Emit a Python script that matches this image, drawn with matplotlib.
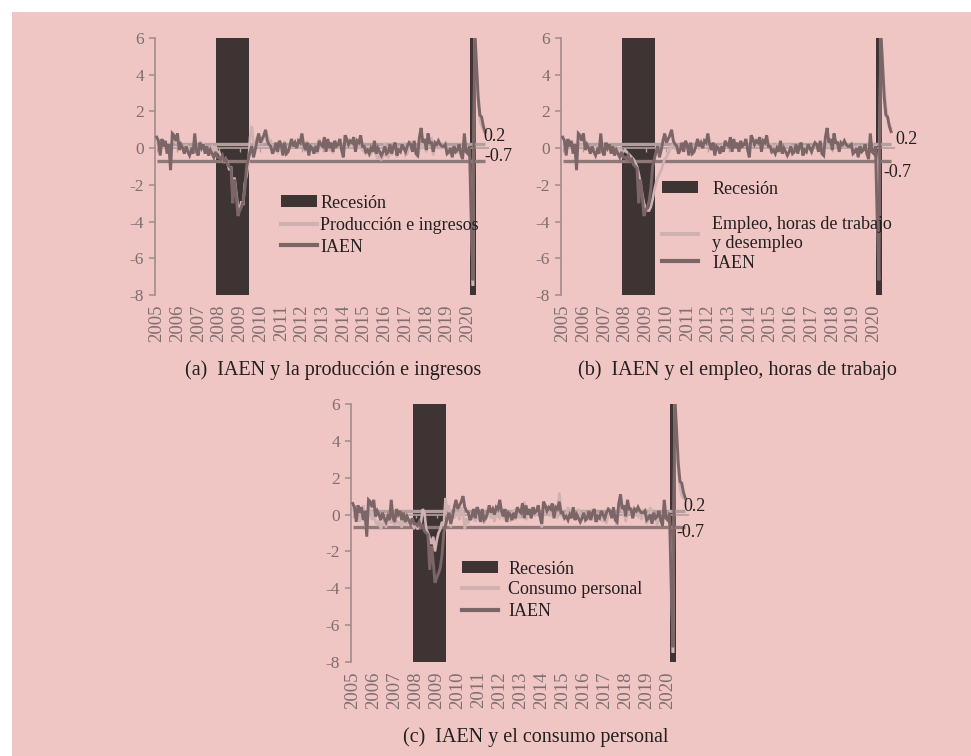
import matplotlib
matplotlib.use("Agg")
import matplotlib.pyplot as plt
from matplotlib.patches import Patch, Rectangle
from matplotlib.lines import Line2D
import numpy as np

plt.rcParams['font.family'] = ['Liberation Serif', 'DejaVu Serif']

# ---------------- data (monthly, Jan 2005 - Nov 2020) ----------------
years = [str(y) for y in range(2005, 2021)]

iaen = [
    0.6, 0.4, -0.4, 0.5, 0.1, 0.4, -0.3, 0.2, -1.2, 0.8, 0.7, 0.4,
    0.8, -0.1, 0.2, 0.0, -0.3, 0.1, -0.2, -0.4, -0.1, -0.3, 0.8, -0.2,
    -0.4, 0.3, 0.0, 0.2, -0.3, 0.1, -0.4, -0.1, -0.3, -0.5, -0.2, -0.5,
    -0.5, -0.6, -0.4, -0.7, -0.6, -0.9, -1.0, -1.1, -3.0, -1.7, -2.6, -3.7,
    -3.4, -3.2, -2.9, -2.2, -1.0, -0.6, -0.2, 0.1, -0.5, -0.1, 0.4, 0.8,
    0.3, 0.5, 0.7, 1.0, 0.4, 0.2, 0.1, -0.3, -0.1, 0.3, -0.2, 0.4,
    0.2, -0.4, 0.3, -0.3, -0.2, 0.1, 0.5, 0.1, 0.3, 0.0, 0.4, 0.3,
    0.8, 0.2, -0.1, 0.3, -0.4, 0.1, 0.0, -0.3, 0.1, -0.2, 0.4, 0.2,
    0.1, 0.6, -0.2, 0.5, 0.0, 0.3, -0.2, 0.4, 0.1, 0.2, 0.5, -0.1,
    -0.5, 0.7, 0.5, 0.2, 0.4, 0.3, 0.6, -0.2, 0.4, 0.3, 0.7, 0.1,
    0.1, -0.2, -0.1, -0.3, 0.0, -0.2, 0.4, -0.3, 0.0, -0.2, -0.4, -0.2,
    0.1, -0.3, -0.2, 0.2, -0.3, 0.1, 0.3, -0.4, -0.1, -0.2, 0.2, 0.0,
    -0.2, 0.1, 0.3, 0.2, -0.2, 0.4, -0.3, -0.4, 0.6, 1.1, 0.3, 0.5,
    -0.1, 0.8, 0.3, 0.3, -0.2, 0.3, 0.2, 0.4, 0.2, 0.1, 0.1, 0.2,
    -0.3, -0.2, 0.0, -0.5, 0.1, -0.2, -0.1, 0.2, -0.3, -0.6, 0.8, -0.2,
    -0.3, 0.1, -4.0, -7.2, 6.5, 4.6, 2.8, 1.8, 1.7, 1.2, 0.9,
]

produccion = [
    0.3, 0.2, -0.1, 0.3, 0.0, 0.2, -0.1, -0.2, -0.7, 0.5, 0.6, 0.3,
    0.3, 0.0, 0.2, 0.1, -0.1, 0.2, -0.1, -0.2, 0.0, -0.3, 0.3, -0.1,
    -0.3, 0.4, -0.1, 0.3, -0.1, 0.1, -0.3, 0.0, 0.1, -0.2, 0.1, -0.2,
    -0.2, -0.4, -0.5, -0.8, -0.6, -0.8, -1.2, -1.0, -2.4, -1.6, -2.4, -3.2,
    -3.3, -2.9, -3.1, -1.9, -1.5, -0.9, 0.6, 1.2, 0.3, 0.1, 0.6, 0.2,
    0.4, 0.3, 0.6, 0.8, 0.7, 0.3, 0.4, -0.1, 0.1, -0.1, -0.2, 0.3,
    0.1, -0.3, 0.4, -0.4, 0.0, 0.0, 0.3, 0.1, 0.1, 0.2, 0.0, 0.4,
    0.4, 0.2, -0.2, 0.4, -0.2, 0.0, 0.2, -0.3, 0.1, -0.3, 0.5, 0.0,
    0.0, 0.3, 0.1, 0.0, -0.1, 0.1, -0.3, 0.4, 0.2, 0.0, 0.3, 0.1,
    -0.4, 0.7, 0.4, 0.1, 0.2, 0.2, 0.1, 0.0, 0.2, 0.0, 0.5, -0.1,
    -0.2, -0.3, -0.2, -0.4, -0.3, -0.1, 0.3, -0.4, -0.6, -0.3, -0.6, -0.5,
    0.3, -0.4, -0.5, 0.1, -0.4, 0.2, 0.1, -0.5, 0.0, -0.1, -0.1, 0.3,
    -0.4, -0.3, 0.1, 0.4, -0.1, 0.1, -0.2, -0.5, -0.1, 0.9, 0.0, 0.2,
    -0.2, 0.4, 0.4, 0.5, -0.4, 0.3, 0.1, 0.3, 0.0, 0.0, 0.2, 0.3,
    -0.3, -0.3, -0.1, -0.4, 0.0, 0.0, -0.3, 0.2, -0.4, -0.3, 0.5, -0.2,
    -0.2, 0.0, -3.5, -7.5, 6.5, 4.0, 2.5, 1.5, 1.2, 1.0, 0.8,
]

empleo = [
    0.2, 0.2, 0.1, 0.3, 0.1, 0.2, 0.1, 0.0, -0.2, 0.1, 0.2, 0.2,
    0.2, 0.2, 0.2, 0.1, 0.0, 0.1, 0.0, 0.0, 0.1, 0.0, 0.1, 0.1,
    0.1, 0.0, 0.1, 0.0, 0.0, 0.0, -0.1, -0.1, -0.1, -0.1, -0.1, -0.2,
    -0.1, -0.2, -0.3, -0.4, -0.5, -0.6, -0.8, -1.0, -1.4, -1.9, -2.5, -3.0,
    -3.3, -3.4, -3.4, -3.2, -2.8, -2.3, -1.9, -1.6, -1.4, -1.2, -0.9, -0.6,
    -0.5, -0.3, -0.1, 0.1, 0.2, 0.0, 0.1, 0.0, 0.1, 0.1, 0.0, 0.1,
    0.1, 0.2, 0.2, 0.1, 0.1, 0.0, 0.1, 0.0, 0.2, 0.1, 0.2, 0.2,
    0.3, 0.2, 0.2, 0.1, 0.1, 0.1, 0.1, 0.1, 0.1, 0.2, 0.1, 0.2,
    0.2, 0.3, 0.1, 0.2, 0.2, 0.2, 0.1, 0.1, 0.2, 0.2, 0.3, 0.1,
    0.1, 0.2, 0.3, 0.3, 0.2, 0.3, 0.2, 0.2, 0.2, 0.3, 0.3, 0.2,
    0.2, 0.2, 0.1, 0.1, 0.2, 0.1, 0.1, 0.1, 0.1, 0.2, 0.1, 0.2,
    0.1, 0.1, 0.1, 0.0, 0.0, 0.1, 0.1, 0.1, 0.1, 0.1, 0.1, 0.1,
    0.1, 0.1, 0.1, 0.1, 0.1, 0.1, 0.1, 0.0, 0.0, 0.2, 0.1, 0.1,
    0.2, 0.2, 0.1, 0.1, 0.1, 0.1, 0.1, 0.1, 0.1, 0.1, 0.1, 0.1,
    0.1, 0.0, 0.0, 0.1, 0.0, 0.1, 0.0, 0.1, 0.0, 0.0, 0.1, 0.0,
    0.0, 0.1, -1.0, -4.5, 6.5, 5.0, 3.4, 2.3, 1.6, 1.3, 1.1,
]

consumo = [
    0.5, 0.0, -0.2, 0.3, -0.4, 0.2, 0.5, -0.5, -0.8, 0.0, 0.3, -0.3,
    0.2, -0.4, -0.6, -0.3, -0.8, -0.5, -0.3, -0.7, -0.4, -0.2, -0.5, -0.3,
    -0.6, -0.3, -0.5, -0.4, -0.7, -0.2, -0.5, -0.4, -0.6, -0.3, -0.5, -0.7,
    -0.5, -0.8, -0.6, -0.4, 0.3, 0.1, -0.8, -1.0, -1.3, -1.6, -1.2, -2.0,
    -1.4, -1.0, -0.8, -0.4, -0.6, 0.9, 0.2, 0.5, -0.7, 0.0, -0.2, 0.1,
    0.1, -0.3, 0.4, 0.1, -0.8, -0.2, -0.5, 0.0, -0.3, 0.2, -0.4, 0.1,
    -0.3, 0.2, 0.0, -0.5, -0.2, -0.1, 0.3, -0.2, 0.0, -0.4, 0.1, -0.1,
    -0.2, 0.3, -0.1, -0.3, 0.0, 0.2, -0.4, 0.1, 0.2, -0.3, 0.3, -0.2,
    0.1, 0.0, 0.7, -0.3, 0.1, 0.0, -0.2, 0.3, -0.1, 0.1, 0.2, 0.0,
    -0.7, 0.2, 0.5, 0.0, 0.3, -0.1, 0.2, 0.0, 0.1, -0.2, 1.2, 0.3,
    -0.2, 0.1, -0.1, 0.4, 0.1, 0.3, 0.0, -0.1, 0.0, 0.3, 0.1, -0.3,
    0.2, -0.1, -0.3, 0.1, 0.2, 0.0, -0.3, 0.1, -0.2, -0.1, 0.2, -0.4,
    0.0, -0.5, 0.1, 0.2, -0.1, 0.3, -0.2, -0.6, 0.4, 0.5, 0.2, 0.1,
    -0.4, 0.2, 0.3, 0.1, -0.2, 0.1, 0.0, -0.1, 0.2, -0.3, 0.3, 0.0,
    -0.5, -0.2, 0.4, 0.1, -0.3, 0.0, -0.6, 0.2, -0.4, -0.2, 0.3, -0.1,
    0.0, 0.1, -3.0, -7.5, 6.0, 3.5, 2.4, 1.4, 1.0, 0.9, 0.8,
]

recession_periods = [("2007-12", "2009-06"), ("2020-03", "2020-05")]
thresholds = [0.2, -0.7]
threshold_labels = ["0.2", "-0.7"]

panels = [
    ("produccion", "Producción e ingresos", "(a)  IAEN y la producción e ingresos"),
    ("empleo", "Empleo, horas de trabajo\ny desempleo", "(b)  IAEN y el empleo, horas de trabajo"),
    ("consumo", "Consumo personal", "(c)  IAEN y el consumo personal"),
]
series = {"produccion": produccion, "empleo": empleo, "consumo": consumo}

# ---------------- styling ----------------
W, H = 971, 756
BG = "#F0C6C4"
BAR = "#3E3434"
IAEN_C = "#7B6567"
COMP_C = "#CFB1B1"
T02_C = "#B39E9E"
T07_C = "#8E7878"
AX_C = "#A08C8C"
TICK_C = "#7F6E6E"
TXT_C = "#231F20"

fig = plt.figure(figsize=(W / 100, H / 100), dpi=100)
fig.patch.set_facecolor("white")
fig.patches.append(Rectangle((12 / W, 0), 1 - 12 / W, 1 - 12 / H,
                             transform=fig.transFigure, facecolor=BG,
                             edgecolor="none", zorder=-10))

n = len(iaen)
x = np.arange(n)
month_keys = [f"{2005 + i // 12}-{i % 12 + 1:02d}" for i in range(n)]


def rec_indices():
    idx = []
    for a, b in recession_periods:
        ia, ib = month_keys.index(a), month_keys.index(b)
        idx.extend(range(ia, ib + 1))
    return idx


# axes rectangles in pixels: left, top, right, bottom
rects = [(155, 38, 493.7, 295), (561, 38, 899.7, 295), (351, 404, 694, 662)]
# legend: handle-left x, row centre y's, handletextpad
legend_x = [281, 662, 462]
legend_rows = [(203, 226, 247), (189, 234, 263), (569, 590, 612)]
legend_pad = [0.17, 0.78, 0.55]
label_offsets = [[(-2, 7.6), (-1, 4)], [(4, 4.6), (-8, -12)], [(-1.5, 4), (-8.5, -5)]]
captions_pos = [(333, 370), (737, 370), (536, 737)]

for p, (key, comp_label, caption) in enumerate(panels):
    l, t, r, b = rects[p]
    ax = fig.add_axes([l / W, 1 - b / H, (r - l) / W, (b - t) / H])
    ax.set_facecolor("none")
    comp = series[key]

    ri = rec_indices()
    ax.bar(ri, [14] * len(ri), bottom=-8, width=1.0, color=BAR, linewidth=0, zorder=1)

    # horizontal category axis at zero with small year ticks
    ax.hlines(0, x[0], x[-1] + 2, color=T02_C, lw=1.2, zorder=2)
    year_idx = [month_keys.index(f"{y}-01") for y in years]
    ax.vlines(year_idx, -0.2, 0, color=T02_C, lw=1.0, zorder=2)

    for lev, col in zip(thresholds, [T02_C, T07_C]):
        ax.hlines(lev, x[0], x[-1], color=col, lw=2.4, zorder=3)

    ax.plot(x, comp, color=COMP_C, lw=1.9, zorder=4, solid_joinstyle="miter")
    ax.plot(x, iaen, color=IAEN_C, lw=2.1, zorder=5, solid_joinstyle="miter")

    for (lev, lab), (dx, dy) in zip(zip(thresholds, threshold_labels), label_offsets[p]):
        ax.annotate(lab, xy=(x[-1], lev), xytext=(dx * 0.72, dy * 0.72),
                    textcoords="offset points", ha="left", va="center",
                    fontsize=13, color=TXT_C, zorder=6)

    ax.set_xlim(-1, 195)
    ax.set_ylim(-8, 6)
    for s in ["top", "right", "bottom"]:
        ax.spines[s].set_visible(False)
    ax.spines["left"].set_color(AX_C)
    ax.spines["left"].set_linewidth(1.2)
    ax.set_yticks(range(-8, 7, 2))
    ax.set_yticklabels([str(v) for v in range(-8, 7, 2)])
    ax.tick_params(axis="y", direction="out", length=4, width=1.1, color=AX_C,
                   labelsize=12.5, labelcolor=TICK_C, pad=4)
    ax.set_xticks(year_idx)
    ax.set_xticklabels(years, rotation=90)
    ax.tick_params(axis="x", length=0, labelsize=13.5, labelcolor=TICK_C, pad=7)

    handles = [Patch(facecolor=BAR, edgecolor="none"),
               Line2D([], [], color=COMP_C, lw=3),
               Line2D([], [], color=IAEN_C, lw=3)]
    labels = ["Recesión", comp_label, "IAEN"]
    for h, lab, cy in zip(handles, labels, legend_rows[p]):
        fig.legend([h], [lab], loc="center left",
                   bbox_to_anchor=(legend_x[p] / W, 1 - cy / H),
                   frameon=False, borderpad=0, borderaxespad=0, handlelength=2.0,
                   handleheight=0.6, handletextpad=legend_pad[p],
                   fontsize=13, labelcolor=TXT_C)

    cx, cy = captions_pos[p]
    fig.text(cx / W, 1 - cy / H, caption, ha="center", va="center",
             fontsize=14.5, color=TXT_C)

fig.savefig("out.png", dpi=100, facecolor=fig.get_facecolor())
